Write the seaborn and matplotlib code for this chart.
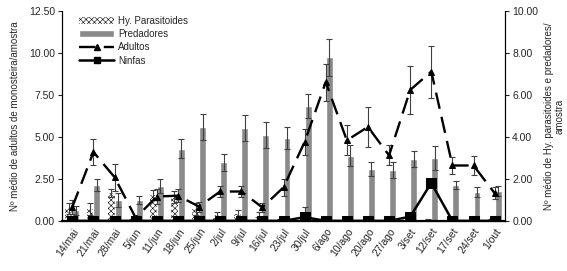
import matplotlib
matplotlib.use('Agg')
import matplotlib.pyplot as plt
import seaborn as sns
import numpy as np
import pandas as pd
from matplotlib.lines import Line2D
from matplotlib.patches import Patch

# sampling dates
datas = ['14/mai', '21/mai', '28/mai', '5/jun', '11/jun', '18/jun', '25/jun',
         '2/jul', '9/jul', '16/jul', '23/jul', '30/jul', '6/ago', '10/ago',
         '20/ago', '27/ago', '3/set', '12/set', '17/set', '24/set', '1/out']

# monosteira (left axis)
adultos = [0.83, 4.1, 2.6, 0.18, 1.45, 1.5, 0.85, 1.75, 1.75, 0.8, 2.0,
           4.7, 8.27, 4.8, 5.6, 3.9, 7.8, 8.9, 3.3, 3.3, 1.65]
adultos_err = [0.4, 0.8, 0.8, 0.1, 0.45, 0.4, 0.3, 0.35, 0.35, 0.25, 0.5,
               0.8, 1.1, 0.9, 1.2, 0.6, 1.45, 1.55, 0.5, 0.55, 0.35]
ninfas = [0, 0, 0, 0, 0, 0, 0, 0, 0, 0, 0,
          0.22, 0, 0, 0, 0, 0.25, 2.26, 0, 0, 0]
ninfas_err = [0, 0, 0, 0, 0, 0, 0, 0, 0, 0, 0,
              0.6, 0, 0, 0, 0, 0, 0, 0, 0, 0]

# natural enemies (right axis)
parasitoides = [0.6, 0.57, 1.33, 0.05, 1.24, 1.14, 0.57, 0.29, 0.33, 0.2, 0.02,
                0, 0, 0, 0, 0, 0, 0.05, 0, 0, 0.05]
parasitoides_err = [0.25, 0.3, 0.2, 0.05, 0.25, 0.3, 0.3, 0.15, 0.2, 0.2, 0.05,
                    0, 0, 0, 0, 0, 0, 0.05, 0, 0, 0.05]
predadores = [0.5, 1.71, 1.0, 1.0, 1.67, 3.43, 4.48, 2.8, 4.43, 4.1, 3.95,
              5.48, 7.8, 3.1, 2.48, 2.43, 2.95, 3.0, 1.71, 1.38, 1.43]
predadores_err = [0.2, 0.3, 0.33, 0.2, 0.33, 0.45, 0.62, 0.4, 0.62, 0.62, 0.52,
                  0.57, 0.87, 0.5, 0.35, 0.38, 0.38, 0.57, 0.2, 0.25, 0.24]

df = pd.DataFrame({'data': datas, 'x': np.arange(len(datas)),
                   'adultos': adultos, 'ninfas': ninfas,
                   'parasitoides': parasitoides, 'predadores': predadores})

sns.set_style('white')
plt.rcParams['font.family'] = ['Liberation Sans', 'DejaVu Sans']
plt.rcParams['font.size'] = 7
plt.rcParams['hatch.linewidth'] = 0.4

fig, ax = plt.subplots(figsize=(5.67, 2.71), dpi=100)
fig.subplots_adjust(left=0.109, right=0.891, bottom=0.185, top=0.959)
ax2 = ax.twinx()

# bars on the right axis
w = 0.33
ekw = dict(ecolor='#404040', elinewidth=0.8, capsize=2.5, capthick=0.8)
ax2.bar(df['x'] - w / 2, df['parasitoides'], width=w, color='white',
        edgecolor='black', linewidth=0, hatch='xxxxxx',
        yerr=parasitoides_err, error_kw=ekw)
ax2.bar(df['x'] + w / 2, df['predadores'], width=w, color='#8a8a8a',
        yerr=predadores_err, error_kw=ekw)

# lines on the left axis, drawn above the bars
ax.set_zorder(ax2.get_zorder() + 1)
ax.patch.set_visible(False)
ax.errorbar(df['x'], df['adultos'], yerr=adultos_err, fmt='none', **ekw)
ax.errorbar(df['x'], df['ninfas'], yerr=ninfas_err, fmt='none', **ekw)
sns.lineplot(data=df, x='x', y='adultos', ax=ax, color='black', lw=1.7,
             marker='^', markersize=4, markeredgecolor='black')
ax.lines[-1].set_dashes([7, 3.5])
sns.lineplot(data=df, x='x', y='ninfas', ax=ax, color='black', lw=1.8,
             marker='s', markersize=7, markeredgecolor='black')

ax.set_xlim(-0.5, len(datas) - 0.5)
ax.set_ylim(0, 12.5)
ax2.set_ylim(0, 10)
ax.set_yticks(np.arange(0, 12.51, 2.5))
ax2.set_yticks(np.arange(0, 10.01, 2))
ax.set_yticklabels([f'{v:.2f}' for v in np.arange(0, 12.51, 2.5)], fontsize=7.5)
ax2.set_yticklabels([f'{v:.2f}' for v in np.arange(0, 10.01, 2)], fontsize=7.5)
ax.set_xticks(df['x'])
ax.set_xticklabels(datas, rotation=55, ha='right', rotation_mode='anchor', fontsize=7.5)
ax.tick_params(axis='x', length=0, pad=4)
ax.tick_params(axis='y', direction='out', length=3, width=0.8, pad=2, left=True)
ax2.tick_params(axis='y', direction='out', length=3, width=0.8, pad=2, right=True)
ax.set_xlabel('')
ax.set_ylabel('Nº médio de adultos de monosteira/amostra', fontsize=7, labelpad=6)
ax2.set_ylabel('Nº médio de Hy. parasitoides e predadores/\namostra', fontsize=7,
               labelpad=4, rotation=90, linespacing=1.1)

for a in (ax, ax2):
    a.spines['top'].set_visible(False)
    for s in ('left', 'right', 'bottom'):
        a.spines[s].set_color('black')
        a.spines[s].set_linewidth(0.8)
ax.spines['bottom'].set_linewidth(1.6)
ax.grid(False)
ax2.grid(False)

handles = [Patch(facecolor='white', edgecolor='black', linewidth=0, hatch='xxxxxx'),
           Patch(facecolor='#8a8a8a'),
           Line2D([], [], color='black', lw=1.7, dashes=[7, 3.5], marker='^', markersize=4),
           Line2D([], [], color='black', lw=1.8, marker='s', markersize=4)]
labels = ['Hy. Parasitoides', 'Predadores', 'Adultos', 'Ninfas']
ax.legend(handles, labels, loc='upper left', bbox_to_anchor=(0.02, 1.02), frameon=False,
          fontsize=7, handlelength=3.6, handleheight=0.8, labelspacing=0.35, handletextpad=0.4)

fig.savefig('out.png', dpi=100)
